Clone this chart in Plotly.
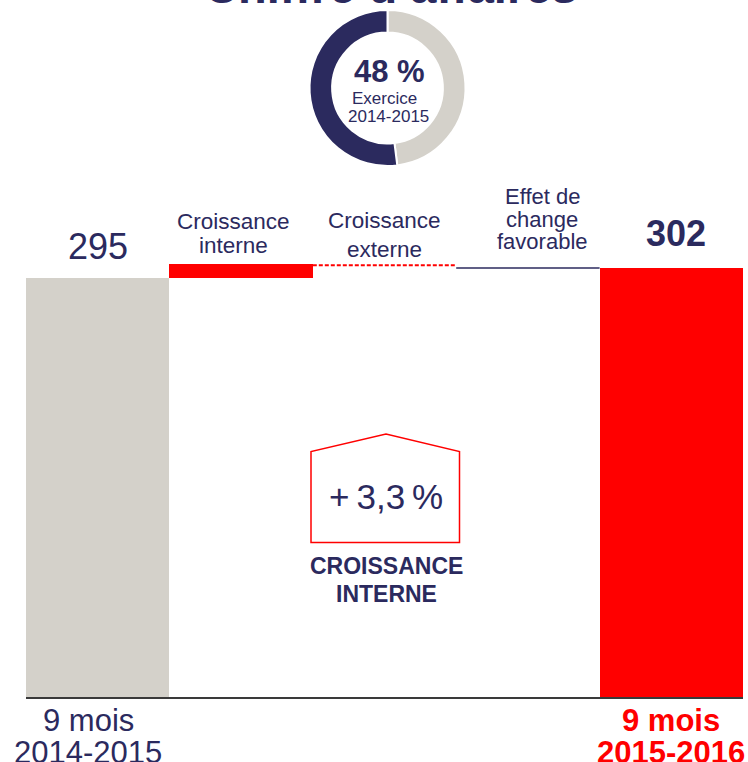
import plotly.graph_objects as go

# ---- data ----
categories = ["9 mois 2014-2015", "Croissance interne", "Croissance externe",
              "Effet de change favorable", "9 mois 2015-2016"]
start_value = 295
internal_growth = 9.7
external_level = 304.0
fx_level = 302.0
end_value = 302
growth_label = "+\u20093,3\u2009%"
donut_values = [48, 52]
donut_label = "48 %"

NAVY = "#2b2a5e"
GRAY = "#d4d1ca"
RED = "#ff0000"
FONT = "Liberation Sans, Arial, sans-serif"

W, H = 748, 762
ML, MR, MT, MB = 26, 5, 0, 65
PW, PH = W - ML - MR, H - MT - MB


def px(p):
    return (p - ML) / PW


def py(p):
    return 1 - (p - MT) / PH


idx = list(range(len(categories)))
fig = go.Figure()

# start and end totals
fig.add_trace(go.Bar(x=[idx[0], idx[4]], y=[start_value, end_value], width=1,
                     marker=dict(color=[GRAY, RED], line=dict(width=0)),
                     hoverinfo="skip"))
# internal growth (floating bar)
fig.add_trace(go.Bar(x=[idx[1]], y=[internal_growth], base=[start_value], width=1,
                     marker=dict(color=RED, line=dict(width=0)), hoverinfo="skip"))
# external growth (dashed level line)
fig.add_trace(go.Scatter(x=[idx[2] - 0.5, idx[2] + 0.5], y=[external_level] * 2,
                         mode="lines", line=dict(color=RED, width=2, dash="4px,2px"),
                         hoverinfo="skip"))
# fx effect (thin level line)
fig.add_trace(go.Scatter(x=[idx[3] - 0.5, idx[3] + 0.5], y=[fx_level] * 2,
                         mode="lines", line=dict(color=NAVY, width=1.5),
                         hoverinfo="skip"))

# donut
fig.add_trace(go.Pie(values=donut_values, hole=0.71, sort=False,
                     direction="clockwise", rotation=0,
                     marker=dict(colors=[GRAY, NAVY], line=dict(color="white", width=2)),
                     textinfo="none", hoverinfo="skip",
                     domain=dict(x=[px(309), px(466)], y=[py(166), py(10)])))

ann = []


def t(text, x, y, size, color=NAVY, bold=False, xref="paper", yref="paper", yshift=0):
    ann.append(dict(text=("<b>%s</b>" % text) if bold else text, x=x, y=y,
                    xref=xref, yref=yref, xanchor="center", yanchor="middle",
                    showarrow=False, yshift=yshift,
                    font=dict(family=FONT, size=size, color=color)))


# title (cut off at top)
t("Chiffre d\u2019affaires", px(390), py(-14), 47, bold=True)
# donut texts
t(donut_label, px(389), py(72), 31, bold=True)
t("Exercice", px(384), py(98.5), 17)
t("2014-2015", px(388), py(116.5), 17)
# value labels
t(str(start_value), idx[0], start_value, 36, xref="x", yref="y", yshift=32)
t(str(end_value), px(676), end_value, 36, bold=True, yref="y", yshift=35)
# step labels
t("Croissance", px(234), py(222), 22.5)
t("interne", px(234), py(245.5), 22.5)
t("Croissance", px(384), py(220.5), 22.5)
t("externe", px(384), py(249.5), 22.5)
t("Effet de", px(542), py(196), 22)
t("change", px(542), py(219), 22)
t("favorable", px(542), py(241.5), 22)
# bottom labels
t("9 mois", px(88), py(720), 31)
t("2014-2015", px(88), py(752), 31)
t("9 mois", idx[4], py(720), 31, color=RED, bold=True, xref="x")
t("2015-2016", idx[4], py(752), 31, color=RED, bold=True, xref="x")
# growth callout
t(growth_label, px(386), py(496), 35)
t("CROISSANCE", px(386), py(566), 23, bold=True)
t("INTERNE", px(386), py(594), 23, bold=True)

house = [(311, 542.5), (311, 451.5), (386, 434), (459.5, 451.5), (459.5, 542.5)]
path = "M " + " L ".join("%f,%f" % (px(a), py(b)) for a, b in house) + " Z"

fig.update_layout(
    width=W, height=H, margin=dict(l=ML, r=MR, t=MT, b=MB),
    paper_bgcolor="white", plot_bgcolor="white", showlegend=False, bargap=0,
    barmode="overlay",
    xaxis=dict(range=[-0.5, 4.5], showticklabels=False, showgrid=False, zeroline=False,
               showline=True, linecolor="#3a3a3a", linewidth=1.5, ticks=""),
    yaxis=dict(range=[0, 697 / 1.4203], visible=False, showgrid=False, zeroline=False),
    annotations=ann,
    shapes=[dict(type="path", path=path, xref="paper", yref="paper",
                 line=dict(color=RED, width=1.5), fillcolor="rgba(0,0,0,0)")],
)

fig.write_html("out.html", config={"displayModeBar": False},
               post_script="document.body.style.margin='0';document.body.style.overflow='hidden';")
